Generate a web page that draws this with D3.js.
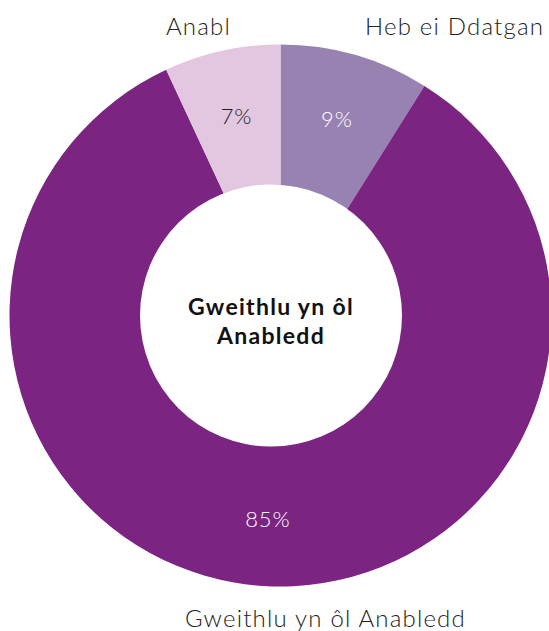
<!DOCTYPE html>
<html>
<head>
<meta charset="utf-8">
<script src="https://cdn.jsdelivr.net/npm/d3@7"></script>
<style>
  html, body { margin: 0; padding: 0; background: #fff; }
  svg { display: block; }
  text { font-family: Lato, "Open Sans", sans-serif; }
</style>
</head>
<body>
<svg id="chart" width="549" height="631"></svg>
<script>
// Workforce by disability status (percent)
const categories = ["Heb ei Ddatgan", "Gweithlu yn ôl Anabledd", "Anabl"];
const values = [9, 85, 7];
const colors = ["#9882b1", "#7b2482", "#e3c7e0"];
const labelColors = ["#ffffff", "#ffffff", "#222222"];
const centerTitle = ["Gweithlu yn ôl", "Anabledd"];

const W = 549, H = 631;
const cx = 280.5, cy = 315.5;
const outerR = 271;
const holeR = 131;

const svg = d3.select("#chart");
const g = svg.append("g").attr("transform", `translate(${cx},${cy})`);

const pie = d3.pie().sort(null).value(d => d)(values);
const arc = d3.arc().innerRadius(110).outerRadius(outerR);
const labelArc = d3.arc().innerRadius(204).outerRadius(204);

g.selectAll("path.slice")
  .data(pie)
  .join("path")
  .attr("class", "slice")
  .attr("d", arc)
  .attr("fill", (d, i) => colors[i]);

// centre disc sits slightly left of the ring centre
svg.append("circle")
  .attr("cx", cx - 9.5)
  .attr("cy", cy)
  .attr("r", holeR)
  .attr("fill", "#fff");

// percentage labels inside each slice
g.selectAll("text.pct")
  .data(pie)
  .join("text")
  .attr("class", "pct")
  .attr("transform", d => `translate(${labelArc.centroid(d)})`)
  .attr("text-anchor", "middle")
  .attr("dy", "0.35em")
  .attr("font-size", 22)
  .attr("font-weight", 300)
  .attr("letter-spacing", 0.8)
  .attr("fill", (d, i) => labelColors[i])
  .text(d => `${d.data}%`);

// category labels around the ring
const outerLabels = [
  { i: 0, x: 365, y: 35, anchor: "start" },
  { i: 1, x: 185, y: 627, anchor: "start" },
  { i: 2, x: 231, y: 35, anchor: "end" }
];
svg.selectAll("text.cat")
  .data(outerLabels)
  .join("text")
  .attr("class", "cat")
  .attr("x", d => d.x)
  .attr("y", d => d.y)
  .attr("text-anchor", d => d.anchor)
  .attr("font-size", 24)
  .attr("font-weight", 300)
  .attr("letter-spacing", 1.2)
  .attr("fill", "#222")
  .text(d => categories[d.i]);

// centre title
svg.append("text")
  .attr("text-anchor", "middle")
  .attr("font-size", 23)
  .attr("font-weight", 700)
  .attr("letter-spacing", 1.3)
  .attr("fill", "#111")
  .selectAll("tspan")
  .data(centerTitle)
  .join("tspan")
  .attr("x", cx - 9.5)
  .attr("y", (d, i) => 315 + i * 29)
  .text(d => d);
</script>
</body>
</html>
